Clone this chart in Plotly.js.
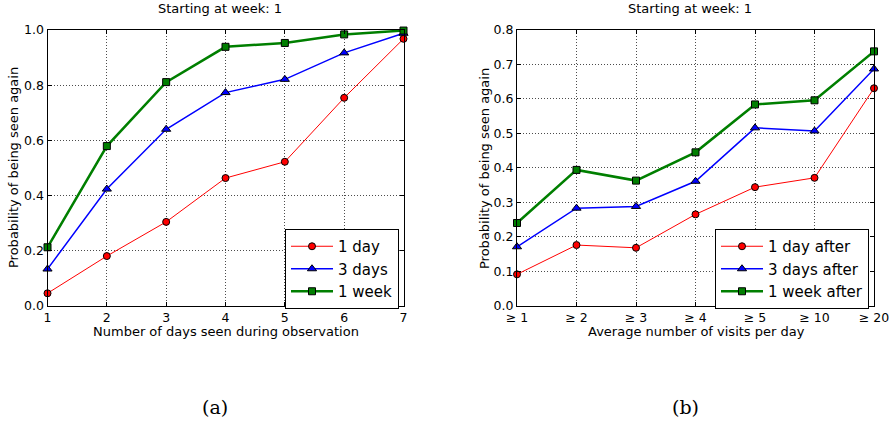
<!DOCTYPE html>
<html><head><meta charset="utf-8">
<script src="https://cdn.plot.ly/plotly-3.0.1.min.js"></script>
<style>body{margin:0;padding:0;background:#fff}#chart{width:892px;height:426px}</style>
</head><body><div id="chart"></div>
<script>
// Panel (a)
const days = [1, 2, 3, 4, 5, 6, 7];
const aOneDay = [0.045, 0.180, 0.304, 0.463, 0.522, 0.754, 0.968];
const aThreeDays = [0.133, 0.423, 0.640, 0.773, 0.821, 0.917, 0.988];
const aOneWeek = [0.212, 0.579, 0.811, 0.939, 0.953, 0.984, 0.998];
// Panel (b)
const visitCats = ["≥ 1", "≥ 2", "≥ 3", "≥ 4", "≥ 5", "≥ 10", "≥ 20"];
const bOneDay = [0.091, 0.176, 0.168, 0.265, 0.344, 0.371, 0.631];
const bThreeDays = [0.171, 0.283, 0.288, 0.361, 0.516, 0.507, 0.687];
const bOneWeek = [0.240, 0.394, 0.363, 0.445, 0.584, 0.596, 0.738];
const namesA = ["1 day", "3 days", "1 week"];
const namesB = ["1 day after", "3 days after", "1 week after"];
const yTicksA = [0, 0.2, 0.4, 0.6, 0.8, 1.0];
const yTicksB = [0, 0.1, 0.2, 0.3, 0.4, 0.5, 0.6, 0.7, 0.8];

const styles = [
  {line: {color: '#ff0000', width: 1}, marker: {symbol: 'circle', size: 7, color: '#ff0000', line: {color: '#000', width: 1}}},
  {line: {color: '#0000ff', width: 1.5}, marker: {symbol: 'triangle-up', size: 8, color: '#0000ff', line: {color: '#000', width: 1}}},
  {line: {color: '#007f00', width: 2.5}, marker: {symbol: 'square', size: 7, color: '#007f00', line: {color: '#000', width: 1}}}
];

const traces = [];
[aOneDay, aThreeDays, aOneWeek].forEach((ys, i) => traces.push({
  x: days, y: ys, name: namesA[i], type: 'scatter', mode: 'lines+markers',
  line: styles[i].line, marker: styles[i].marker, xaxis: 'x', yaxis: 'y', legend: 'legend', cliponaxis: false
}));
[bOneDay, bThreeDays, bOneWeek].forEach((ys, i) => traces.push({
  x: visitCats, y: ys, name: namesB[i], type: 'scatter', mode: 'lines+markers',
  line: styles[i].line, marker: styles[i].marker, xaxis: 'x2', yaxis: 'y2', legend: 'legend2', cliponaxis: false
}));

const font = {family: 'DejaVu Sans', size: 13, color: '#000'};
const tfont = {family: 'DejaVu Sans', size: 13, color: '#000'};
const kfont = {family: 'DejaVu Sans', size: 12.5, color: '#000'};
const axBase = {
  showline: true, linecolor: '#000', linewidth: 1, mirror: 'allticks',
  ticks: 'inside', ticklen: 4, tickcolor: '#000', tickwidth: 1,
  showgrid: true, gridcolor: 'rgba(0,0,0,0.7)', griddash: '1px,2px', gridwidth: 1,
  zeroline: false, tickfont: kfont
};
const yDom = [1 - 305.7 / 426, 1 - 30 / 426];
const ann = (text, x, y, f, angle) => ({text: text, xref: 'paper', yref: 'paper', x: x / 892, y: 1 - y / 426,
  xanchor: 'center', yanchor: 'middle', showarrow: false, font: f, textangle: angle || 0});
const serif = {family: 'DejaVu Serif', size: 19, color: '#000'};

const layout = {
  width: 892, height: 426, margin: {l: 0, r: 0, t: 0, b: 0},
  paper_bgcolor: '#fff', plot_bgcolor: '#fff', font: font, showlegend: true,
  xaxis: Object.assign({}, axBase, {domain: [47.5 / 892, 403.5 / 892], range: [1, 7], tickvals: days}),
  yaxis: Object.assign({}, axBase, {domain: yDom, range: [0, 1], tickvals: yTicksA, tickformat: '.1f'}),
  xaxis2: Object.assign({}, axBase, {domain: [517 / 892, 874 / 892], type: 'category', range: [0, 6], anchor: 'y2'}),
  yaxis2: Object.assign({}, axBase, {domain: yDom, range: [0, 0.8], tickvals: yTicksB, tickformat: '.1f', anchor: 'x2'}),
  legend: {x: 285 / 892, y: 1 - 229 / 426, xanchor: 'left', yanchor: 'top', bgcolor: '#fff', bordercolor: '#000', borderwidth: 1,
    font: {family: 'DejaVu Sans', size: 15}, itemwidth: 42, tracegroupgap: 0},
  legend2: {x: 715 / 892, y: 1 - 229 / 426, xanchor: 'left', yanchor: 'top', bgcolor: '#fff', bordercolor: '#000', borderwidth: 1,
    font: {family: 'DejaVu Sans', size: 15}, itemwidth: 42, tracegroupgap: 0},
  annotations: [
    ann('Starting at week: 1', 220, 8, tfont),
    ann('Starting at week: 1', 690, 8, tfont),
    ann('Number of days seen during observation', 226, 331, tfont),
    ann('Average number of visits per day', 696, 331, tfont),
    ann('Probability of being seen again', 14, 168, tfont, -90),
    ann('Probability of being seen again', 485, 168, tfont, -90),
    ann('(a)', 215, 407, serif),
    ann('(b)', 685, 407, serif)
  ]
};
Plotly.newPlot('chart', traces, layout, {displayModeBar: false, staticPlot: true});
</script></body></html>
